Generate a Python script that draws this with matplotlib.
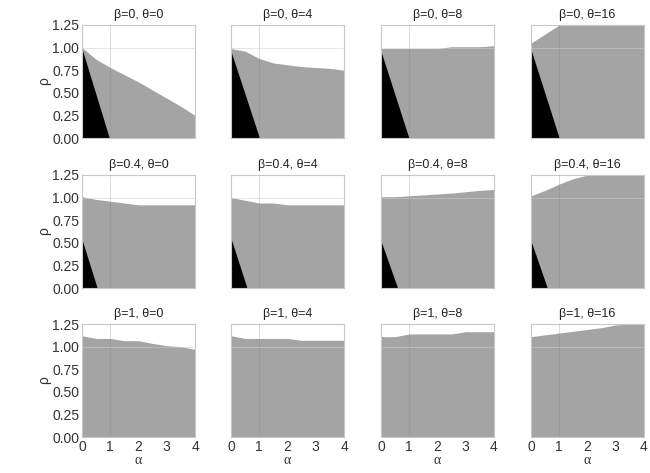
import matplotlib
matplotlib.use("Agg")
import matplotlib.pyplot as plt
import numpy as np

plt.rcParams['font.family'] = ['Liberation Sans', 'DejaVu Sans']

alpha = [0, 0.5, 1, 1.5, 2, 2.5, 3, 3.5, 4]
betas = ["0", "0.4", "1"]
thetas = ["0", "4", "8", "16"]

# upper boundary of the gray region (rho) per panel, rows = beta, cols = theta
rho_b0_t0 = [1.00, 0.87, 0.78, 0.70, 0.62, 0.53, 0.44, 0.35, 0.25]
rho_b0_t4 = [0.99, 0.96, 0.88, 0.83, 0.81, 0.79, 0.78, 0.77, 0.75]
rho_b0_t8 = [0.99, 0.99, 0.99, 0.99, 0.99, 1.01, 1.01, 1.01, 1.02]
rho_b0_t16 = [1.05, 1.15, 1.25, 1.25, 1.25, 1.25, 1.25, 1.25, 1.25]

rho_b04_t0 = [1.01, 0.98, 0.96, 0.94, 0.92, 0.92, 0.92, 0.92, 0.92]
rho_b04_t4 = [1.00, 0.97, 0.94, 0.94, 0.92, 0.92, 0.92, 0.92, 0.92]
rho_b04_t8 = [1.01, 1.01, 1.02, 1.03, 1.04, 1.05, 1.065, 1.08, 1.09]
rho_b04_t16 = [1.02, 1.08, 1.15, 1.21, 1.25, 1.25, 1.25, 1.25, 1.25]

rho_b1_t0 = [1.12, 1.09, 1.09, 1.065, 1.065, 1.035, 1.01, 1.00, 0.97]
rho_b1_t4 = [1.12, 1.09, 1.09, 1.09, 1.09, 1.07, 1.07, 1.07, 1.07]
rho_b1_t8 = [1.11, 1.11, 1.14, 1.14, 1.14, 1.14, 1.165, 1.165, 1.165]
rho_b1_t16 = [1.11, 1.13, 1.15, 1.17, 1.19, 1.21, 1.24, 1.25, 1.25]

gray_bounds = [
    [rho_b0_t0, rho_b0_t4, rho_b0_t8, rho_b0_t16],
    [rho_b04_t0, rho_b04_t4, rho_b04_t8, rho_b04_t16],
    [rho_b1_t0, rho_b1_t4, rho_b1_t8, rho_b1_t16],
]

# black region: triangle with rho-intercept and alpha-intercept (None = absent)
black_rho_int = [[1.00, 0.97, 0.97, 0.99], [0.55, 0.56, 0.53, 0.53], [None, None, None, None]]
black_alpha_int = [[0.98, 1.02, 1.00, 1.01], [0.55, 0.58, 0.60, 0.59], [None, None, None, None]]

yticks = [0, 0.25, 0.5, 0.75, 1.0, 1.25]
xticks = [0, 1, 2, 3, 4]

W, H = 650, 473
fig = plt.figure(figsize=(W / 100, H / 100), dpi=100)
col_px = [82, 231, 381, 531]
row_px = [25, 175, 324]
aw, ah = 113, 113

GRAY = '#a4a4a4'
for r in range(3):
    for c in range(4):
        ax = fig.add_axes([col_px[c] / W, 1 - (row_px[r] + ah) / H, aw / W, ah / H])
        ax.set_xlim(0, 4)
        ax.set_ylim(0, 1.25)
        a = np.array(alpha)
        ax.fill_between(a, 0, np.minimum(gray_bounds[r][c], 1.25), color=GRAY, lw=0, zorder=1)
        if black_rho_int[r][c] is not None:
            ax.fill([0, 0, black_alpha_int[r][c]], [0, black_rho_int[r][c], 0],
                    color='black', lw=0, zorder=2)
        ax.axvline(1, color='#888888', lw=0.6, alpha=0.35, zorder=3)
        ax.axhline(1, color='#cccccc', lw=0.6, alpha=0.6, zorder=3)
        ax.set_title("β=%s, θ=%s" % (betas[r], thetas[c]), fontsize=9, color='#222222', pad=5)
        for s in ax.spines.values():
            s.set_color('#c8c8c8')
            s.set_linewidth(0.8)
        ax.set_xticks(xticks)
        ax.set_yticks(yticks)
        ax.tick_params(length=0, labelsize=10, colors='#333333', pad=2)
        if c == 0:
            ax.set_yticklabels(["%.2f" % v for v in yticks])
            ax.set_ylabel("ρ", fontsize=10, color='#333333', labelpad=1)
        else:
            ax.set_yticklabels([])
        if r == 2:
            ax.set_xticklabels([str(v) for v in xticks])
            ax.set_xlabel("α", fontsize=10, color='#333333', labelpad=0,
                          family=['Liberation Serif', 'DejaVu Serif'])
        else:
            ax.set_xticklabels([])

fig.savefig("out.png", dpi=100)
